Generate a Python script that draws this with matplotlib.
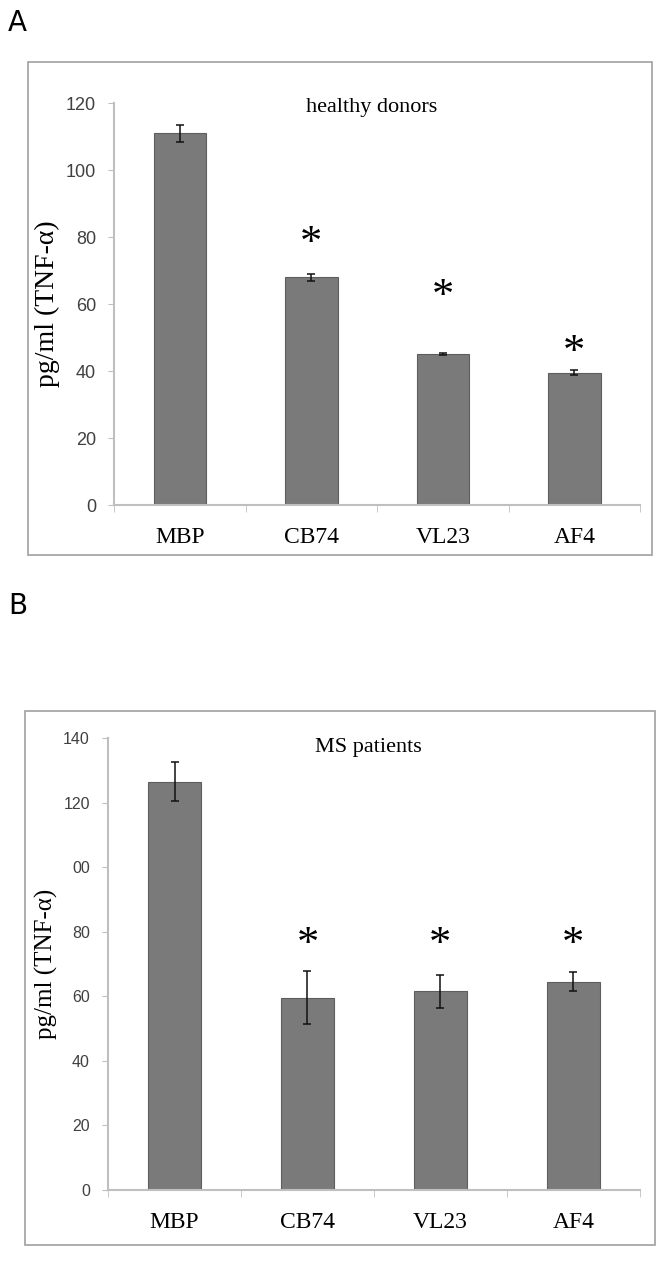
import numpy as np
import matplotlib.pyplot as plt
from matplotlib.patches import Rectangle

# data
categories = ['MBP', 'CB74', 'VL23', 'AF4']

healthy_mean = [111, 68, 45, 39.5]
healthy_err = [2.6, 1.0, 0.3, 0.7]
healthy_star = [None, 78, 62, 45.5]
healthy_ticks = [0, 20, 40, 60, 80, 100, 120]
healthy_ticklabels = ['0', '20', '40', '60', '80', '100', '120']

ms_mean = [126.5, 59.5, 61.5, 64.5]
ms_err = [6.0, 8.2, 5.0, 3.0]
ms_star = [None, 76, 76, 76]
ms_ticks = [0, 20, 40, 60, 80, 100, 120, 140]
ms_ticklabels = ['0', '20', '40', '60', '80', '00', '120', '140']

bar_color = '#7a7a7a'
axis_gray = '#bfbfbf'
serif = ['Liberation Serif', 'DejaVu Serif']

fig = plt.figure(figsize=(6.64, 12.62), dpi=100)


def panel(rect, box, letter, letter_y, title, title_y, means, errs, stars,
          ticks, ticklabels, ymax, tick_fs, label_fs):
    # outer frame
    fig.add_artist(Rectangle((box[0], box[1]), box[2], box[3], transform=fig.transFigure,
                             fill=False, edgecolor='#a0a0a0', lw=1.2))
    fig.text(0.012, letter_y, letter, fontsize=20, family='DejaVu Sans', va='center', ha='left')

    ax = fig.add_axes(rect)
    x = np.arange(len(categories))
    ax.bar(x, means, width=0.4, color=bar_color, edgecolor='#5e5e5e', lw=0.8, zorder=2)
    ax.errorbar(x, means, yerr=errs, fmt='none', ecolor='#111111', elinewidth=1.1,
                capsize=3, capthick=1.1, zorder=3)
    for xi, s in zip(x, stars):
        if s is not None:
            ax.text(xi, s, '*', ha='center', va='center', fontsize=32, family=serif)

    ax.set_xlim(-0.5, len(categories) - 0.5)
    ax.set_ylim(0, ymax)
    ax.set_yticks(ticks)
    ax.set_yticklabels(ticklabels, fontsize=tick_fs, color='#404040', family='Liberation Sans')
    ax.set_xticks(x)
    ax.set_xticklabels(categories, fontsize=17, family=serif)
    ax.set_xticks(np.arange(-0.5, len(categories)), minor=True)
    ax.tick_params(axis='x', which='major', length=0, pad=16)
    ax.tick_params(axis='x', which='minor', length=5, color=axis_gray, direction='out')
    ax.tick_params(axis='y', length=4, color=axis_gray, direction='out', pad=9)

    for side in ['top', 'right']:
        ax.spines[side].set_visible(False)
    for side in ['left', 'bottom']:
        ax.spines[side].set_color(axis_gray)
        ax.spines[side].set_linewidth(1.5)

    ax.set_ylabel('pg/ml (TNF-α)', fontsize=label_fs, family=serif, labelpad=4)
    ax.text(0.49, title_y, title, transform=ax.transAxes, ha='center', va='center',
            fontsize=16, family=serif)
    return ax


panel([0.1720, 0.5998, 0.792, 0.3185], (0.042, 0.560, 0.940, 0.391), 'A', 0.982,
      'healthy donors', 0.99, healthy_mean, healthy_err, healthy_star,
      healthy_ticks, healthy_ticklabels, 120, 13, 20)

panel([0.1627, 0.0571, 0.801, 0.3581], (0.038, 0.0135, 0.948, 0.4235), 'B', 0.520,
      'MS patients', 0.978, ms_mean, ms_err, ms_star,
      ms_ticks, ms_ticklabels, 140, 11.5, 18)

plt.savefig('out.png', dpi=100)
